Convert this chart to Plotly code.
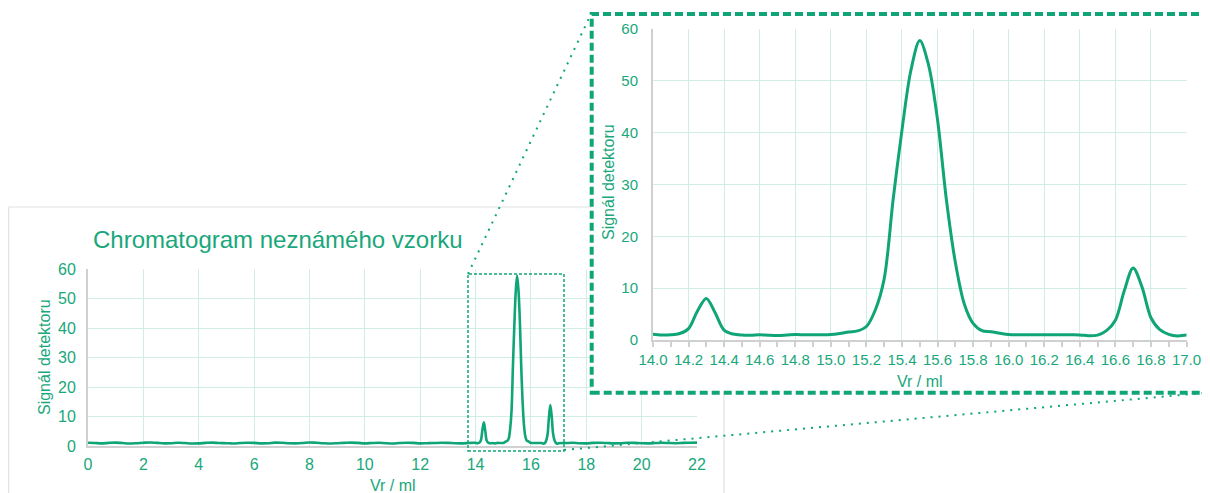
import numpy as np
import plotly.graph_objects as go

# The page body has an 8px margin, so the figure is drawn 8px smaller and
# all pixel positions below are given in window pixels, shifted by OFF.
WIN_W, WIN_H = 1210, 493
OFF = 8
W, H = WIN_W - OFF, WIN_H - OFF

# ---------------- data ----------------
vr_left = np.round(np.arange(0.0, 13.751, 0.25), 2)          # 0 .. 13.75
sig_left = [1.10, 1.00, 0.90, 1.05, 1.15, 1.00, 0.85, 0.95,
            1.10, 1.20, 1.05, 0.90, 0.95, 1.10, 1.00, 0.85,
            0.90, 1.05, 1.15, 1.00, 0.95, 0.85, 1.00, 1.10,
            1.05, 0.90, 0.95, 1.15, 1.10, 0.95, 0.90, 1.00,
            1.20, 1.10, 0.95, 0.85, 0.95, 1.05, 1.15, 1.05,
            0.90, 1.00, 1.10, 0.95, 0.85, 1.00, 1.10, 1.05,
            0.90, 0.95, 1.00, 1.10, 1.05, 0.95, 0.90, 1.00]

vr_mid = np.round(np.arange(14.0, 17.001, 0.05), 2)           # 14.00 .. 17.00
sig_mid = [1.10, 0.95, 1.00, 1.25, 2.20, 5.60, 8.00, 5.20, 1.90, 1.15,   # 14.00-14.45
           0.95, 0.92, 1.00, 0.92, 0.88, 0.95, 1.05, 1.02, 1.00, 1.00,   # 14.50-14.95
           1.05, 1.25, 1.55, 1.75, 2.60, 5.80, 11.8, 27.0, 40.5, 52.0,   # 15.00-15.45
           57.8, 53.0, 42.5, 27.0, 15.0, 7.00, 3.20, 1.80, 1.60, 1.30,   # 15.50-15.95
           1.05, 1.00, 1.00, 1.00, 1.00, 1.00, 1.00, 1.00, 0.98, 0.80,   # 16.00-16.45
           0.95, 1.80, 3.80, 9.50, 13.9, 10.2, 4.30, 2.00, 1.10, 0.78,   # 16.50-16.95
           0.95]                                                         # 17.00

vr_right = np.round(np.arange(17.25, 22.001, 0.25), 2)        # 17.25 .. 22.00
sig_right = [1.00, 1.10, 0.95, 0.90, 1.05, 1.10, 1.00, 0.90, 0.95, 1.10,
             1.05, 0.95, 0.90, 1.00, 1.10, 1.00, 0.95, 1.05, 1.10, 1.15]

main_xticks = [0, 2, 4, 6, 8, 10, 12, 14, 16, 18, 20, 22]
inset_xticks = [14.0, 14.2, 14.4, 14.6, 14.8, 15.0, 15.2, 15.4, 15.6, 15.8,
                16.0, 16.2, 16.4, 16.6, 16.8, 17.0]
yticks = [0, 10, 20, 30, 40, 50, 60]

title_text = "Chromatogram neznámého vzorku"
x_title = "Vr / ml"
y_title = "Signál detektoru"

vr = np.concatenate([vr_left, vr_mid, vr_right])
sig = np.array(sig_left + sig_mid + sig_right)
assert len(vr) == len(sig)

# ---------------- style ----------------
GREEN = "#10a577"
TEXT = "#19a77b"
GRID = "#d1eee3"
AXIS = "#d0d0d0"
FONT = "Liberation Sans, Arial, sans-serif"


def X(px):
    return (px - OFF) / W


def Y(py):
    return 1 - (py - OFF) / H


fig = go.Figure()

# main chromatogram
fig.add_trace(go.Scatter(x=vr, y=sig, mode="lines", xaxis="x", yaxis="y",
                         line=dict(color=GREEN, width=2.6, shape="spline", smoothing=0.9),
                         hoverinfo="skip", showlegend=False))
# invisible trace for the cover subplot (white background of the inset)
fig.add_trace(go.Scatter(x=[None], y=[None], mode="lines", xaxis="x2", yaxis="y2",
                         hoverinfo="skip", showlegend=False))
# inset (zoom)
fig.add_trace(go.Scatter(x=vr, y=sig, mode="lines", xaxis="x3", yaxis="y3",
                         line=dict(color=GREEN, width=3, shape="spline", smoothing=0.9),
                         hoverinfo="skip", showlegend=False))

common = dict(showgrid=True, gridcolor=GRID, gridwidth=1, zeroline=False,
              showline=True, linecolor=AXIS, linewidth=2,
              fixedrange=True, automargin=False)
main_tickfont = dict(family=FONT, size=16, color=TEXT)
inset_tickfont = dict(family=FONT, size=15, color=TEXT)

# cover subplot pixel box (window pixels)
CX0, CX1, CY0, CY1 = 585, 1210, 9, 398

fig.update_layout(
    template="none",
    width=W, height=H,
    margin=dict(l=0, r=0, t=0, b=0, pad=0, autoexpand=False),
    paper_bgcolor="white", plot_bgcolor="rgba(0,0,0,0)",
    font=dict(family=FONT, color=TEXT),
    xaxis=dict(domain=[X(88), X(697)], range=[0, 22], tickmode="array",
               tickvals=main_xticks, ticks="", anchor="y",
               ticklabelstandoff=3, tickfont=main_tickfont, **common),
    yaxis=dict(domain=[Y(446), Y(269)], range=[0, 60], tickmode="array",
               tickvals=yticks, ticks="", anchor="x",
               ticklabelstandoff=7, tickfont=main_tickfont, **common),
    xaxis2=dict(domain=[X(CX0), X(CX1)], range=[0, 1], visible=False,
                anchor="y2", fixedrange=True, automargin=False),
    yaxis2=dict(domain=[Y(CY1), Y(CY0)], range=[0, 1], visible=False,
                anchor="x2", fixedrange=True, automargin=False),
    xaxis3=dict(domain=[X(653), X(1186.5)], range=[14, 17], tickmode="array",
                tickvals=inset_xticks, tickformat=".1f", ticks="outside",
                ticklen=5, tickwidth=1.5, tickcolor=AXIS, anchor="y3",
                minor=dict(dtick=0.1, tick0=14, ticks="outside", ticklen=5,
                           tickwidth=1.5, tickcolor=AXIS, showgrid=False),
                ticklabelstandoff=0, tickfont=inset_tickfont, **common),
    yaxis3=dict(domain=[Y(340), Y(29)], range=[0, 60], tickmode="array",
                tickvals=yticks, ticks="", anchor="x3",
                ticklabelstandoff=10, tickfont=inset_tickfont, **common),
)


def cx(px):
    return (px - CX0) / (CX1 - CX0)


def cy(py):
    return (CY1 - py) / (CY1 - CY0)


shapes = [
    # card border of the main chart
    dict(type="rect", xref="paper", yref="paper", layer="below",
         x0=X(8.7), x1=X(724), y0=Y(520), y1=Y(207),
         line=dict(color="#e2e2e2", width=1.2), fillcolor="white"),
    # inset background & thick dashed frame (in cover subplot)
    dict(type="rect", xref="x2", yref="y2", layer="below",
         x0=cx(591.7), x1=cx(1240), y0=cy(392.7), y1=cy(14),
         line=dict(color=GREEN, width=4, dash="8px,4px"), fillcolor="white"),
    # small dashed zoom rectangle on the main chart
    dict(type="rect", xref="paper", yref="paper", layer="above",
         x0=X(468), x1=X(564), y0=Y(451), y1=Y(274),
         line=dict(color=GREEN, width=1.5, dash="3px,2px")),
    # dotted connectors
    dict(type="line", xref="paper", yref="paper", layer="above",
         x0=X(468), y0=Y(274), x1=X(591), y1=Y(14),
         line=dict(color=GREEN, width=2, dash="2px,6px")),
    dict(type="line", xref="paper", yref="paper", layer="above",
         x0=X(564), y0=Y(450), x1=X(1215), y1=Y(392),
         line=dict(color=GREEN, width=2, dash="2px,6px")),
]
fig.update_layout(shapes=shapes)

ann_font = dict(family=FONT, size=16, color=TEXT)
annotations = [
    dict(text=title_text, xref="paper", yref="paper", x=X(91), y=Y(239),
         xanchor="left", yanchor="middle", showarrow=False,
         font=dict(family=FONT, size=24, color=TEXT)),
    dict(text=y_title, xref="paper", yref="paper", x=X(44), y=Y(357),
         xanchor="center", yanchor="middle", textangle=-90, showarrow=False,
         font=ann_font),
    dict(text=x_title, xref="paper", yref="paper", x=X(392.5), y=Y(485),
         xanchor="center", yanchor="middle", showarrow=False, font=ann_font),
    dict(text=y_title, xref="paper", yref="paper", x=X(608), y=Y(182),
         xanchor="center", yanchor="middle", textangle=-90, showarrow=False,
         font=ann_font),
    dict(text=x_title, xref="paper", yref="paper", x=X(919.5), y=Y(381.5),
         xanchor="center", yanchor="middle", showarrow=False, font=ann_font),
]
fig.update_layout(annotations=annotations)

fig.write_html("out.html")
